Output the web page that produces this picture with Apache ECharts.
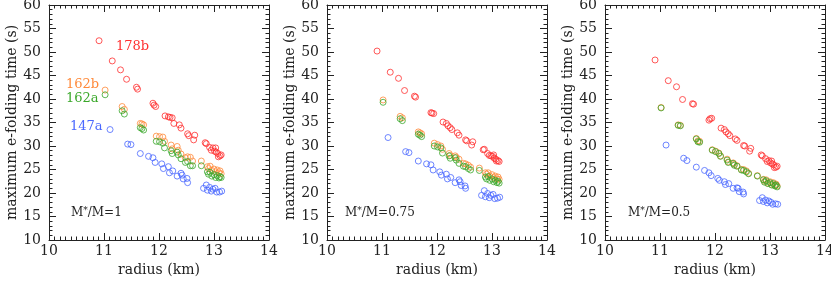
<!DOCTYPE html>
<html><head><meta charset="utf-8">
<script src="https://cdn.jsdelivr.net/npm/echarts@6/dist/echarts.min.js"></script>
<style>html,body{margin:0;padding:0;background:#fff}#c{width:831px;height:281px}</style>
</head><body><div id="c"></div>
<script>
const panelLabels = ['1', '0.75', '0.5'];
const seriesNames = ['147a', '162b', '162a', '178b'];
const xRed = [10.91, 11.15, 11.30, 11.41, 11.59, 11.61, 11.89, 11.91, 11.94, 12.11, 12.17, 12.20, 12.24, 12.27, 12.37, 12.40, 12.52, 12.54, 12.65, 12.63, 12.84, 12.86, 12.92, 12.98, 13.03, 12.95, 13.01, 13.04, 13.07, 13.11, 13.08, 13.13];
const red1 = [52.4, 48.1, 46.2, 44.2, 42.5, 42.1, 39.1, 38.7, 38.4, 36.4, 36.2, 36.1, 36.0, 34.8, 34.5, 33.8, 32.6, 32.2, 32.3, 31.3, 30.7, 30.5, 29.7, 29.6, 29.6, 29.1, 28.9, 28.7, 28.4, 27.9, 27.7, 28.1];
const red2 = [50.2, 45.7, 44.4, 41.8, 40.6, 40.4, 37.1, 37.0, 36.9, 35.1, 34.8, 34.3, 33.9, 33.5, 32.8, 32.3, 31.3, 31.1, 30.9, 30.2, 29.2, 29.3, 28.4, 27.9, 28.1, 28.0, 27.8, 27.4, 27.2, 26.9, 26.8, 26.7];
const red3 = [48.3, 43.9, 42.6, 39.9, 39.0, 38.9, 35.5, 35.8, 35.9, 33.8, 33.5, 33.0, 32.6, 32.2, 31.5, 31.2, 30.1, 30.0, 29.5, 28.9, 28.1, 27.9, 27.3, 26.9, 26.8, 26.7, 26.4, 26.2, 26.0, 25.5, 25.4, 25.7];
const xOG = [11.02, 11.33, 11.37, 11.66, 11.69, 11.72, 11.95, 12.01, 12.07, 12.10, 12.22, 12.24, 12.33, 12.35, 12.40, 12.48, 12.52, 12.57, 12.61, 12.77, 12.88, 12.90, 12.93, 12.96, 13.00, 13.03, 13.06, 13.09, 13.11, 13.13];
const orange1 = [41.9, 38.4, 37.8, 34.8, 34.7, 34.5, 32.1, 32.0, 31.9, 31.0, 30.2, 29.4, 29.9, 29.1, 28.3, 27.5, 27.7, 27.6, 26.8, 26.8, 25.6, 25.2, 25.7, 24.8, 25.1, 24.5, 24.9, 24.3, 24.7, 24.1];
const green1 = [40.9, 37.5, 36.8, 33.9, 33.7, 33.4, 31.0, 30.9, 30.6, 29.6, 29.0, 28.4, 28.7, 28.1, 27.3, 26.5, 26.7, 25.8, 25.8, 25.8, 24.5, 24.0, 24.4, 23.6, 23.9, 23.3, 23.7, 23.2, 23.5, 23.3];
const orange2 = [39.8, 36.3, 36.0, 33.0, 32.8, 32.6, 30.6, 30.3, 30.0, 29.3, 28.4, 28.0, 27.9, 27.6, 27.2, 26.3, 26.2, 25.9, 25.5, 25.3, 24.3, 24.0, 24.3, 23.6, 23.9, 23.3, 23.6, 23.0, 23.4, 22.9];
const green2 = [39.3, 35.8, 35.4, 32.5, 32.3, 32.0, 30.0, 29.8, 29.6, 28.5, 27.9, 27.4, 27.5, 27.0, 26.3, 25.7, 25.6, 25.2, 24.9, 24.8, 23.4, 23.0, 23.5, 22.7, 23.0, 22.4, 22.7, 22.2, 22.5, 22.1];
const orange3 = [38.2, 34.5, 34.4, 31.6, 31.1, 31.0, 29.2, 28.9, 28.5, 27.9, 27.2, 26.6, 26.4, 26.1, 25.8, 25.0, 25.0, 24.7, 24.2, 23.7, 22.9, 22.5, 22.8, 22.1, 22.4, 21.8, 22.2, 21.6, 21.9, 21.5];
const green3 = [38.1, 34.4, 34.3, 31.5, 30.9, 30.8, 29.1, 28.8, 28.4, 27.8, 27.0, 26.5, 26.3, 25.9, 25.7, 24.9, 24.8, 24.5, 24.1, 23.6, 22.8, 22.3, 22.6, 22.0, 22.2, 21.7, 22.0, 21.5, 21.7, 21.3];
const xBlue = [11.11, 11.43, 11.49, 11.66, 11.81, 11.89, 11.93, 12.05, 12.08, 12.17, 12.19, 12.25, 12.33, 12.40, 12.42, 12.44, 12.51, 12.52, 12.81, 12.86, 12.88, 12.92, 12.95, 12.98, 13.02, 13.05, 13.10, 13.14];
const blue1 = [33.5, 30.4, 30.3, 28.4, 27.8, 27.5, 26.5, 26.2, 25.2, 25.6, 24.3, 24.7, 23.6, 24.2, 23.8, 23.0, 23.1, 22.2, 21.0, 21.7, 20.6, 21.2, 20.4, 20.8, 21.0, 20.2, 20.2, 20.4];
const blue2 = [31.8, 28.8, 28.6, 26.8, 26.2, 26.0, 24.9, 24.5, 23.8, 24.0, 23.0, 23.3, 22.2, 22.8, 22.4, 21.6, 21.5, 21.0, 19.5, 20.5, 19.2, 19.9, 19.0, 19.5, 19.7, 18.8, 18.9, 19.1];
const blue3 = [30.2, 27.4, 26.9, 25.5, 24.8, 24.3, 23.7, 23.1, 22.7, 22.4, 21.8, 22.0, 21.0, 21.1, 21.0, 20.3, 20.2, 19.8, 18.4, 19.0, 18.2, 18.5, 17.9, 18.3, 18.0, 17.6, 17.7, 17.6];

const FONT = 'DejaVu Serif';
const colors = {blue: '#4a68ff', orange: '#ff8a3a', green: '#3aa82a', red: '#ff3030'};
const zip = (xs, ys) => xs.map((x, i) => [x, ys[i]]);
const panels = [
  {blue: blue1, orange: orange1, green: green1, red: red1},
  {blue: blue2, orange: orange2, green: green2, red: red2},
  {blue: blue3, orange: orange3, green: green3, red: red3}
];
const lefts = [49, 327, 605];
const grids = [], xAxes = [], yAxes = [], series = [], graphics = [];
const axisLine = {show: true, lineStyle: {color: '#222', width: 1}};
panels.forEach((p, i) => {
  grids.push({left: lefts[i], top: 5, width: 220, height: 235, containLabel: false, outerBoundsMode: 'none'});
  const xb = {gridIndex: i, type: 'value', min: 10, max: 14, interval: 1, splitLine: {show: false}, axisLine,
    axisTick: {show: true, inside: true, length: 7, lineStyle: {color: '#222'}},
    minorTick: {show: true, splitNumber: 10, length: 3.5, lineStyle: {color: '#222'}}};
  xAxes.push(Object.assign({}, xb, {position: 'bottom', name: 'radius (km)', nameLocation: 'middle', nameGap: 22,
    nameTextStyle: {fontFamily: FONT, fontSize: 14, color: '#222'},
    axisLabel: {fontFamily: FONT, fontSize: 14, color: '#222', margin: 4}}));
  xAxes.push(Object.assign({}, xb, {position: 'top', axisLabel: {show: false}}));
  const yb = {gridIndex: i, type: 'value', min: 10, max: 60, interval: 5, splitLine: {show: false}, axisLine,
    axisTick: {show: true, inside: true, length: 7, lineStyle: {color: '#222'}},
    minorTick: {show: true, splitNumber: 5, length: 3.5, lineStyle: {color: '#222'}}};
  yAxes.push(Object.assign({}, yb, {position: 'left', name: 'maximum e-folding time (s)', nameLocation: 'middle', nameGap: 29,
    nameTextStyle: {fontFamily: FONT, fontSize: 14, color: '#222'},
    axisLabel: {fontFamily: FONT, fontSize: 14, color: '#222', margin: 8}}));
  yAxes.push(Object.assign({}, yb, {position: 'right', axisLabel: {show: false}}));
  const mk = (name, xs, ys, col) => ({type: 'scatter', name, xAxisIndex: 2 * i, yAxisIndex: 2 * i,
    data: zip(xs, ys), symbol: 'circle', symbolSize: 6, silent: true,
    itemStyle: {color: 'rgba(0,0,0,0)', borderColor: col, borderWidth: 1}});
  series.push(mk(seriesNames[0], xBlue, p.blue, colors.blue));
  series.push(mk(seriesNames[1], xOG, p.orange, colors.orange));
  series.push(mk(seriesNames[2], xOG, p.green, colors.green));
  series.push(mk(seriesNames[3], xRed, p.red, colors.red));
  graphics.push({type: 'text', left: lefts[i] + [22, 18, 23][i], top: 206,
    style: {text: '{a|M}{s|*}{a|/M=' + panelLabels[i] + '}', rich: {
      a: {fontFamily: FONT, fontSize: 12, fill: '#222'},
      s: {fontFamily: FONT, fontSize: 9, fill: '#222', verticalAlign: 'top', padding: [0, 0, 5, 0]}}}});
});
const tl = (t, x, y, c) => ({type: 'text', left: x, top: y, style: {text: t, fontFamily: FONT, fontSize: 13, fill: c}});
graphics.push(tl(seriesNames[3], 116, 40, colors.red));
graphics.push(tl(seriesNames[1], 66, 78, colors.orange));
graphics.push(tl(seriesNames[2], 66, 92, colors.green));
graphics.push(tl(seriesNames[0], 70, 120, colors.blue));

const chart = echarts.init(document.getElementById('c'), null, {renderer: 'canvas'});
chart.setOption({animation: false, backgroundColor: '#fff', grid: grids, xAxis: xAxes, yAxis: yAxes, series, graphic: graphics});
</script></body></html>
